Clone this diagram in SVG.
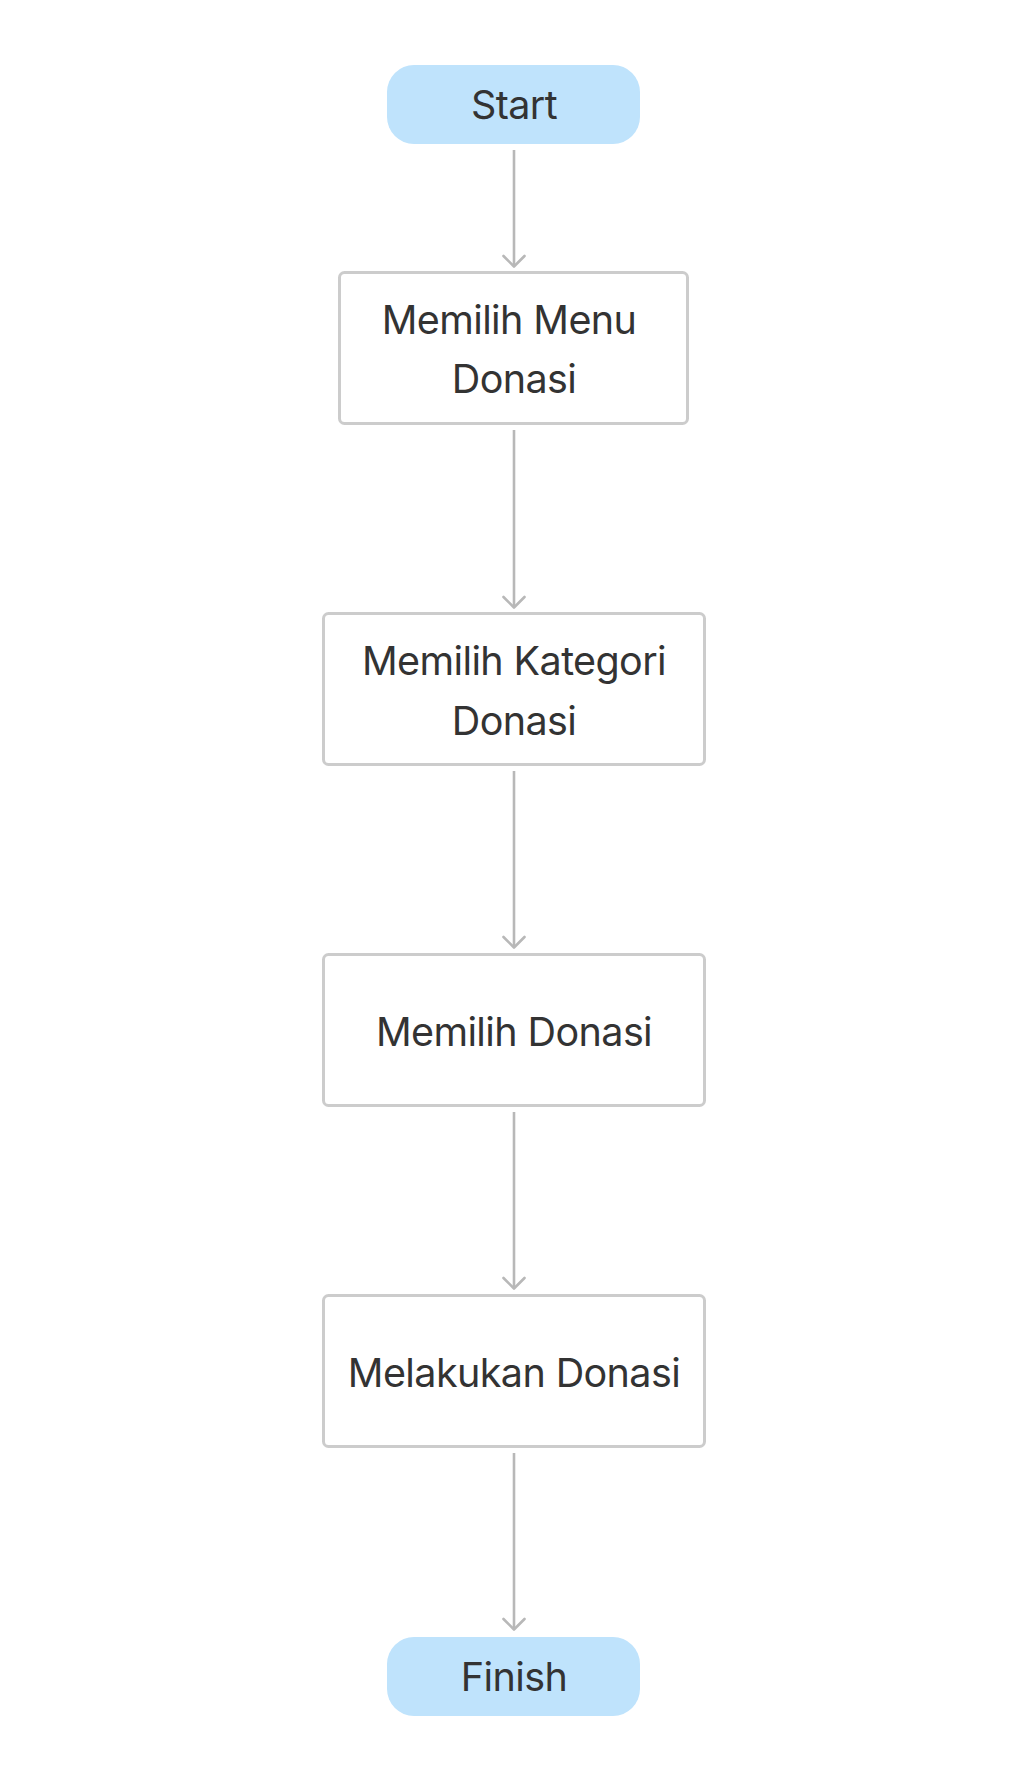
<svg xmlns="http://www.w3.org/2000/svg" width="1028" height="1781" viewBox="0 0 1028 1781">
<style>
.bg{fill:#ffffff}
.pill{fill:#bfe3fc}
.box{fill:#ffffff;stroke:#cccccc;stroke-width:3}
.lbl{font-family:Inter,"Noto Sans","Liberation Sans",sans-serif;font-size:39.5px;letter-spacing:-0.6px;fill:#333333;text-anchor:middle}
.edge{stroke:#b8b8b8;stroke-width:2.6;fill:none}
.head{stroke:#b8b8b8;stroke-width:2.6;fill:none;stroke-linecap:round;stroke-linejoin:round}
</style>
<rect class="bg" x="0" y="0" width="1028" height="1781"/>
<g id="connectors">
<line class="edge" x1="514" y1="150" x2="514" y2="266"/>
<polyline class="head" points="503.5,256 514,266.5 524.5,256"/>
<line class="edge" x1="514" y1="430" x2="514" y2="607"/>
<polyline class="head" points="503.5,597 514,607.5 524.5,597"/>
<line class="edge" x1="514" y1="771" x2="514" y2="947"/>
<polyline class="head" points="503.5,937 514,947.5 524.5,937"/>
<line class="edge" x1="514" y1="1112" x2="514" y2="1288"/>
<polyline class="head" points="503.5,1278 514,1288.5 524.5,1278"/>
<line class="edge" x1="514" y1="1453" x2="514" y2="1629"/>
<polyline class="head" points="503.5,1619 514,1629.5 524.5,1619"/>
</g>
<g id="start">
<rect class="pill" x="387" y="65" width="253" height="79" rx="27"/>
<text class="lbl" x="514" y="119">Start</text>
</g>
<g id="memilih-menu-donasi">
<rect class="box" x="339.5" y="272.5" width="348" height="151" rx="5"/>
<text class="lbl" x="509" y="334">Memilih Menu</text>
<text class="lbl" x="514" y="393">Donasi</text>
</g>
<g id="memilih-kategori-donasi">
<rect class="box" x="323.5" y="613.5" width="381" height="151" rx="5"/>
<text class="lbl" x="514" y="675">Memilih Kategori</text>
<text class="lbl" x="514" y="735">Donasi</text>
</g>
<g id="memilih-donasi">
<rect class="box" x="323.5" y="954.5" width="381" height="151" rx="5"/>
<text class="lbl" x="514" y="1046">Memilih Donasi</text>
</g>
<g id="melakukan-donasi">
<rect class="box" x="323.5" y="1295.5" width="381" height="151" rx="5"/>
<text class="lbl" x="514" y="1387">Melakukan Donasi</text>
</g>
<g id="finish">
<rect class="pill" x="387" y="1637" width="253" height="79" rx="27"/>
<text class="lbl" x="514" y="1691">Finish</text>
</g>
</svg>
